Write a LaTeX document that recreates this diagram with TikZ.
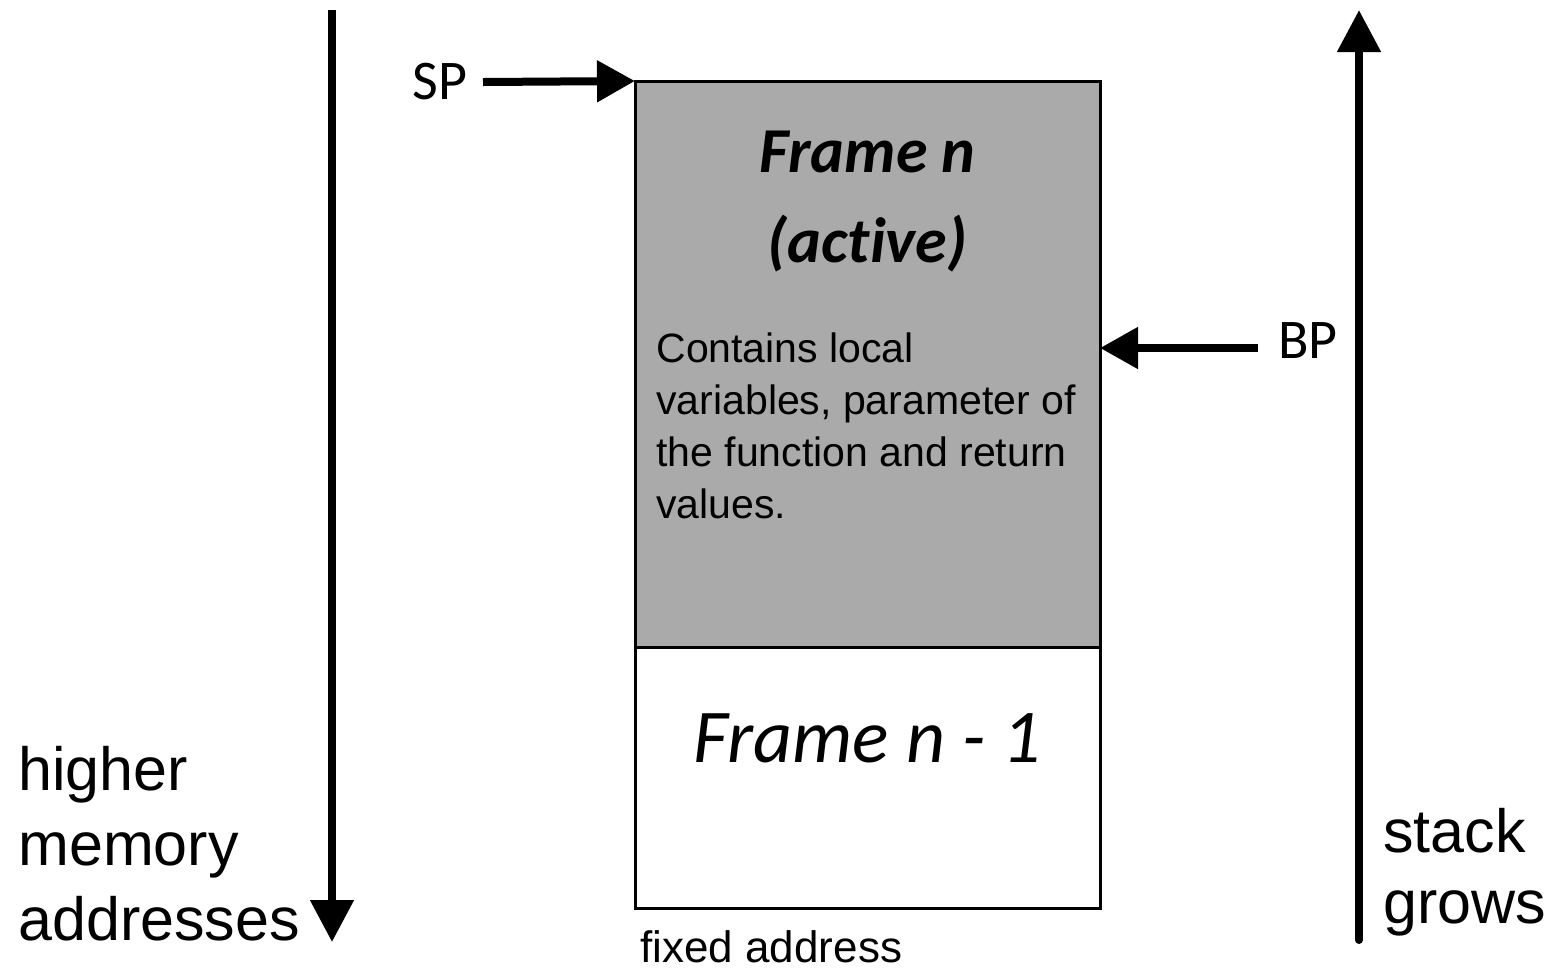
\documentclass[tikz,border=0pt]{standalone}
\usepackage{fontspec}
\setmainfont[Ligatures=NoCommon]{Liberation Sans}
\newfontfamily\calibri[Ligatures=NoCommon]{Carlito}
\usetikzlibrary{arrows.meta}
\definecolor{framegray}{RGB}{170,170,170}
\begin{document}
\begin{tikzpicture}[x=0.5pt,y=-0.5pt,
  longarrow/.style={line width=4pt,-{Triangle[length=21pt,width=21pt]}},
  ptrarrow/.style={line width=4pt,-{Triangle[length=19pt,width=20pt]}},
  framebox/.style={draw,line width=1.5pt,inner sep=0pt,outer sep=0pt,minimum width=232.5pt},
  sidelabel/.style={inner sep=0pt,anchor=base west,align=left,font=\fontsize{30.5pt}{37.5pt}\selectfont},
  reglabel/.style={inner sep=0pt,font=\calibri\fontsize{28pt}{34pt}\selectfont},
  frametitle/.style={inner sep=0pt,anchor=base,font=\calibri\itshape\fontsize{38pt}{45pt}\selectfont}]
\useasboundingbox (0,0) rectangle (1554,971);

% stack frames (multi-line nodes are placed by the baseline of their last line)
\node[framebox,fill=framegray,minimum height=283pt] (active) at (867.5,364) {};
\node[framebox,fill=white,minimum height=130.5pt] (prev) at (867.5,777.5) {};

\node[inner sep=0pt,anchor=base,align=center,font=\calibri\bfseries\itshape\fontsize{32pt}{45pt}\selectfont]
  (title) at (867.5,262) {Frame n\\(active)};
\node[inner sep=0pt,anchor=base west,align=left,font=\fontsize{20.5pt}{26pt}\selectfont]
  (contents) at (656,518) {Contains local\\variables, parameter of\\the function and return\\values.};
\node[frametitle] (prevtitle) at (867.5,762) {Frame n - 1};
\node[inner sep=0pt,anchor=base west,text depth=0pt,font=\fontsize{22pt}{26pt}\selectfont]
  (fixed) at (640,962) {fixed address};

% stack and base pointers
\node[reglabel,anchor=east] (sp) at (468,82) {SP};
\coordinate (spstart) at (483,82);
\draw[ptrarrow] (spstart) -- (active.north west);
\node[reglabel,anchor=west] (bp) at (1278,341) {BP};
\coordinate (bpstart) at (1258,348);
\draw[ptrarrow] (bpstart) -- (bpstart -| active.east);

% direction arrows
\coordinate (memtop) at (332,10);
\coordinate (membot) at (332,942);
\draw[longarrow] (memtop) -- (membot);
\node[sidelabel] (mem) at (18,940) {higher\\memory\\addresses};

\coordinate (growbot) at (1359,940);
\coordinate (growtop) at (1359,10);
\draw[longarrow,line cap=round] (growbot) -- (growtop);
\node[sidelabel,font=\fontsize{30.5pt}{35.5pt}\selectfont] (grow) at (1383,923) {stack\\grows};
\end{tikzpicture}
\end{document}
